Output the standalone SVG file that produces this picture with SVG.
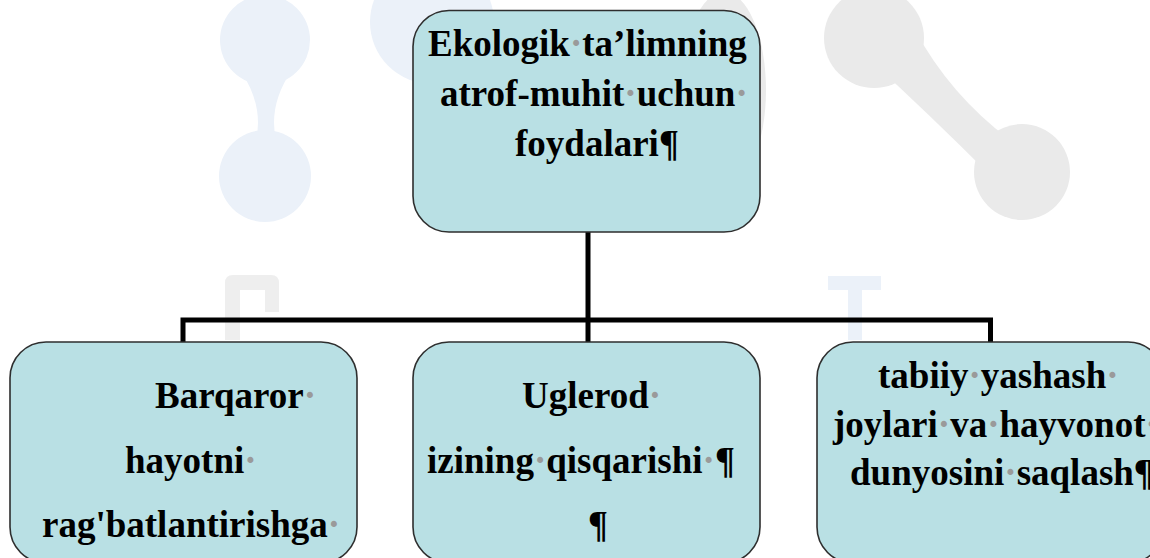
<svg xmlns="http://www.w3.org/2000/svg" width="1150" height="558" viewBox="0 0 1150 558">
  <style>
    .box { fill: #b9e0e4; stroke: #2e2e2e; stroke-width: 1.6; }
    .t { font-family: "Liberation Serif", "Times New Roman", serif; font-weight: bold; font-size: 37px; fill: #000; }
    .d { fill: #9a9a9a; }
    .conn { fill: none; stroke: #000; stroke-width: 5; stroke-linejoin: miter; }
    .wb { fill: #ebf1f9; }
    .wg { fill: #eaeaea; }
  </style>
  <rect x="0" y="0" width="1150" height="558" fill="#ffffff"/>
  <g id="watermark">
    <circle class="wb" cx="265" cy="40" r="45"/>
    <circle class="wb" cx="265" cy="176" r="46"/>
    <path class="wb" d="M240,70 Q264,105 256,140 L276,140 Q268,105 292,70 Z"/>
    <circle class="wb" cx="432" cy="22" r="62"/>
    <ellipse class="wg" cx="724" cy="90" rx="42" ry="98"/>
    <circle class="wg" cx="874" cy="38" r="50"/>
    <circle class="wg" cx="1022" cy="172" r="48"/>
    <path class="wg" d="M870,60 L915,30 Q950,95 1010,140 L990,175 Q930,115 870,60 Z"/>
    <path fill="#eeeeee" d="M225,340 V283 Q225,275 233,275 H271 Q279,275 279,283 V312 H265 V290 H240 V340 Z"/>
    <path class="wb" d="M828,276 H881 V290 H862 V340 H848 V290 H828 Z"/>
  </g>
  <g id="connectors">
    <path class="conn" d="M588,232 V342"/>
    <path class="conn" d="M183,342 V320 H990.5 V342"/>
  </g>
  <g id="node-root">
    <rect class="box" x="413" y="10.5" width="347" height="221.5" rx="36" ry="36"/>
    <text class="t" x="428" y="56">Ekologik<tspan class="d">·</tspan>ta’limning</text>
    <text class="t" x="440" y="106">atrof-muhit<tspan class="d">·</tspan>uchun<tspan class="d">·</tspan></text>
    <text class="t" x="515" y="156">foydalari¶</text>
  </g>
  <g id="node-barqaror">
    <rect class="box" x="10" y="342" width="347" height="221" rx="36" ry="36"/>
    <text class="t" x="155" y="408">Barqaror<tspan class="d">·</tspan></text>
    <text class="t" x="125" y="473">hayotni<tspan class="d">·</tspan></text>
    <text class="t" x="42" y="537">rag'batlantirishga<tspan class="d">·</tspan></text>
  </g>
  <g id="node-uglerod">
    <rect class="box" x="413" y="342" width="347" height="221" rx="36" ry="36"/>
    <text class="t" x="522" y="408">Uglerod<tspan class="d">·</tspan></text>
    <text class="t" x="427" y="473">izining<tspan class="d">·</tspan>qisqarishi<tspan class="d">·</tspan>¶</text>
    <text class="t" x="588" y="537">¶</text>
  </g>
  <g id="node-tabiiy">
    <rect class="box" x="817" y="342" width="347" height="221" rx="36" ry="36"/>
    <text class="t" x="878" y="388">tabiiy<tspan class="d">·</tspan>yashash<tspan class="d">·</tspan></text>
    <text class="t" x="833" y="437">joylari<tspan class="d">·</tspan>va<tspan class="d">·</tspan>hayvonot<tspan class="d">·</tspan></text>
    <text class="t" x="850" y="485">dunyosini<tspan class="d">·</tspan>saqlash¶</text>
  </g>
</svg>
